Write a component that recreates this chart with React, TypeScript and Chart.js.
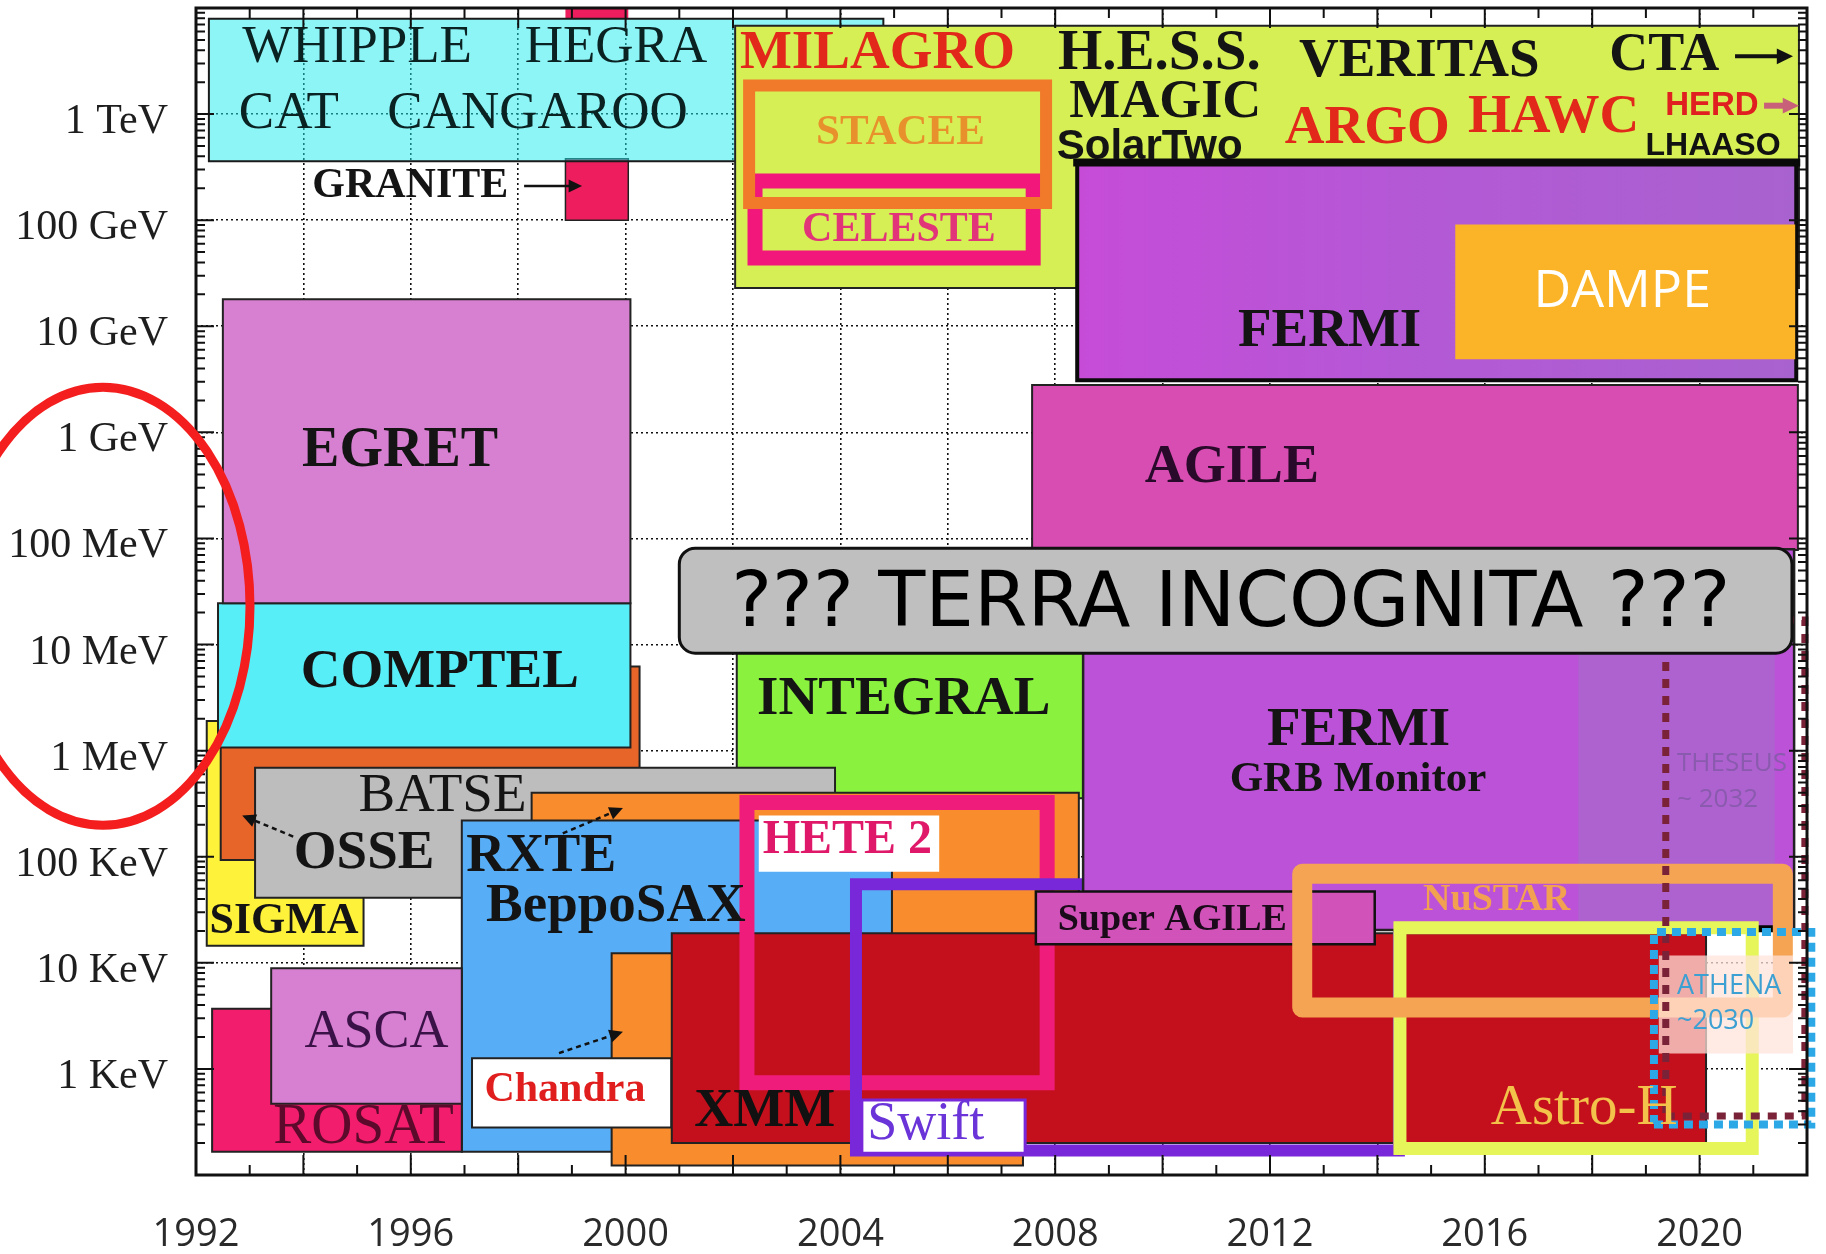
import React, { useEffect, useRef } from 'react';
import { Chart, registerables } from 'chart.js';

Chart.register(...registerables);

// ---------- axes ----------
const yearTickLabels = ['1992', '1996', '2000', '2004', '2008', '2012', '2016', '2020'];
const energyTickValues = [1, 10, 100, 1e3, 1e4, 1e5, 1e6, 1e7, 1e8, 1e9]; // keV
const energyTickLabels = ['1 KeV', '10 KeV', '100 KeV', '1 MeV', '10 MeV', '100 MeV', '1 GeV', '10 GeV', '100 GeV', '1 TeV'];

// ---------- instrument boxes (drawing order, bottom first) ----------
const boxNames = [
  'GRANITE', 'GRANITE top', 'WHIPPLE/HEGRA/CAT/CANGAROO', 'MILAGRO/H.E.S.S./MAGIC/VERITAS/CTA',
  'CELESTE', 'STACEE', 'FERMI LAT', 'DAMPE', 'AGILE',
  'SIGMA', 'OSSE', 'COMPTEL', 'EGRET', 'INTEGRAL', 'BATSE', 'RXTE', 'BeppoSAX',
  'ROSAT', 'ASCA', 'Chandra', 'Chandra tag', 'XMM', 'HETE 2', 'HETE 2 tag',
  'Swift', 'Swift tag', 'FERMI GBM', 'FERMI GBM ext', 'Super AGILE',
  'Astro-H', 'NuSTAR', 'ATHENA tag', 'THESEUS', 'ATHENA',
];
const boxStart = [
  1998.88, 1998.88, 1992.24, 2002.04,
  2002.41, 2002.30, 2008.41, 2015.45, 2007.57,
  1992.2, 1992.46, 1992.41, 1992.5, 2002.07, 1993.1, 1998.25, 1996.95,
  1992.3, 1993.4, 1999.74, 1997.14, 2000.86, 2002.26, 2002.48,
  2004.29, 2004.4, 2008.52, 2017.74, 2007.64,
  2014.42, 2012.6, 2019.24, 2019.37, 2019.15,
];
const boxEnd = [
  2000.05, 2000.05, 2004.8, 2021.85,
  2007.59, 2007.83, 2021.8, 2021.78, 2021.83,
  1995.12, 2000.26, 2000.09, 2000.09, 2008.52, 2003.9, 2008.44, 2004.96,
  1996.95, 1996.95, 2007.4, 2000.85, 2020.12, 2007.85, 2005.84,
  2014.4, 2007.44, 2021.76, 2021.4, 2013.95,
  2020.98, 2021.55, 2021.74, 2021.96, 2022.08,
];
const boxLow = [ // keV
  1e8, 8e9, 3.6e8, 2.3e7,
  4.4e7, 1.45e8, 3.1e6, 4.9e6, 7.8e4,
  14.5, 93, 1.07e3, 2.45e4, 355, 41, 16, 0.166,
  0.166, 0.47, 0.123, 0.28, 0.2, 0.74, 72,
  0.17, 0.16, 20.4, 21, 15,
  0.178, 3.8, 1.4, 0.36, 0.3,
];
const boxHigh = [ // keV
  3.8e8, 1e10, 7.9e9, 6.8e9,
  2.34e8, 1.86e9, 3.5e8, 9.1e7, 2.8e6,
  1.9e3, 6.2e3, 2.45e4, 1.8e7, 4e4, 690, 400, 220,
  3.7, 8.9, 12.3, 1.26, 19, 324, 245,
  55, 0.51, 7.9e4, 7.9e4, 47,
  21.4, 69, 11.7, 1.7e4, 19.5,
];

// ---------- text annotations ----------
const labelTexts = [
  'WHIPPLE', 'HEGRA', 'CAT', 'CANGAROO', 'GRANITE', 'EGRET', 'COMPTEL', 'INTEGRAL',
  'FERMI', 'DAMPE', 'AGILE', 'FERMI', 'GRB Monitor', 'MILAGRO', 'H.E.S.S.', 'MAGIC',
  'SolarTwo', 'VERITAS', 'CTA', 'ARGO', 'HAWC', 'HERD', 'LHAASO', 'STACEE', 'CELESTE',
  'BATSE', 'OSSE', 'SIGMA', 'RXTE', 'BeppoSAX', 'HETE 2', 'Super AGILE', 'NuSTAR',
  'ASCA', 'ROSAT', 'Chandra', 'XMM', 'Swift', 'Astro-H', 'THESEUS', '~ 2032', 'ATHENA', '~2030',
];
const labelYears = [
  1995.0, 1999.82, 1993.73, 1998.36, 1995.99, 1995.8, 1996.54, 2005.18,
  2013.11, 2018.56, 2011.29, 2013.65, 2013.64, 2004.69, 2009.94, 2010.05,
  2009.76, 2014.78, 2019.34, 2013.81, 2017.28, 2020.23, 2020.25, 2005.12, 2005.09,
  1996.59, 1995.13, 1993.64, 1998.43, 1999.82, 2004.13, 2010.18, 2016.22,
  1995.36, 1995.12, 1998.87, 2002.59, 2005.59, 2017.85, 2019.58, 2019.58, 2019.58, 2019.58,
];
const labelEnergies = [
  4.2e9, 4.2e9, 1e9, 1e9, 2.1e8, 6.6e5, 5.4e3, 3.0e3,
  8.9e6, 2.1e7, 4.6e5, 1.55e3, 525, 3.7e9, 3.7e9, 1.26e9,
  4.9e8, 3.1e9, 3.5e9, 7.2e8, 9.3e8, 1.2e9, 5.0e8, 6.6e8, 8.1e7,
  372, 107, 24.5, 100, 34, 141, 25, 39,
  2.19, 0.28, 0.63, 0.39, 0.30, 0.42, 760, 347, 6.0, 2.8,
];

const terraText = '??? TERRA INCOGNITA ???';
const terraYears = [2001.0, 2021.72];
const terraEnergies = [8.3e3, 8.1e4];
const terraTextAt = [2011.27, 2.3e4];

const arrowFromYear = [1998.11, 1993.81, 1998.83, 1998.76, 2020.66, 2021.2];
const arrowFromE = [2.1e8, 155, 166, 1.41, 3.5e9, 1.2e9];
const arrowToYear = [1999.19, 1992.86, 1999.95, 1999.95, 2021.74, 2021.85];
const arrowToE = [2.1e8, 245, 288, 2.24, 3.5e9, 1.2e9];

// ---------- styles ----------
const SERIF = '"Liberation Serif", "Times New Roman", serif';
const SANS = '"Liberation Sans", Arial, sans-serif';
const OPEN = '"Open Sans", "DejaVu Sans", sans-serif';
const DK = '#141414';
const RED = '#E2281A';

type BoxStyle = {
  fill?: any; border?: string; width?: number; dash?: number[]; join?: string; cap?: string;
  bottomOnly?: boolean; thickTop?: number;
};
const boxStyles: Record<string, BoxStyle> = {
  'GRANITE': { fill: '#EE1E5E', border: '#222', width: 1.5 },
  'GRANITE top': { fill: '#EE1E5E' },
  'WHIPPLE/HEGRA/CAT/CANGAROO': { fill: 'rgba(30,235,240,0.5)', border: '#1a1a1a', width: 2 },
  'MILAGRO/H.E.S.S./MAGIC/VERITAS/CTA': { fill: '#D6EF55', border: '#222', width: 2 },
  'CELESTE': { border: '#F2177A', width: 15 },
  'STACEE': { border: '#F07A2A', width: 12 },
  'FERMI LAT': { fill: 'gradLAT', border: '#0a0a0a', width: 4, thickTop: 8 },
  'DAMPE': { fill: '#FBB427' },
  'AGILE': { fill: '#D84DB2', border: '#222', width: 2 },
  'SIGMA': { fill: '#FFF23A', border: '#222', width: 2 },
  'OSSE': { fill: '#E8652A', border: '#222', width: 2 },
  'COMPTEL': { fill: '#58EEF8', border: '#222', width: 2 },
  'EGRET': { fill: '#D77FD0', border: '#222', width: 2 },
  'INTEGRAL': { fill: '#8AF23E', border: '#222', width: 2 },
  'BATSE': { fill: '#BDBDBD', border: '#222', width: 2 },
  'RXTE': { fill: '#F98C2C', border: '#222', width: 2 },
  'BeppoSAX': { fill: '#58AEF6', border: '#222', width: 2 },
  'ROSAT': { fill: '#F21D6C', border: '#222', width: 2 },
  'ASCA': { fill: '#D77FD0', border: '#222', width: 2 },
  'Chandra': { fill: '#F98C2C', border: '#222', width: 2 },
  'Chandra tag': { fill: '#FFFFFF', border: '#222', width: 2 },
  'XMM': { fill: '#C4101C', border: '#222', width: 2 },
  'HETE 2': { border: '#F01C7C', width: 15 },
  'HETE 2 tag': { fill: '#FFFFFF' },
  'Swift': { border: '#7828D8', width: 12 },
  'Swift tag': { fill: '#FFFFFF', border: '#7828D8', width: 3 },
  'FERMI GBM': { fill: '#BC52D8', border: '#222', width: 2.5 },
  'FERMI GBM ext': { fill: '#AE62CF', border: '#050505', width: 7, bottomOnly: true, cap: 'butt' },
  'Super AGILE': { fill: '#D152B8', border: '#111', width: 2.5 },
  'Astro-H': { border: '#E6F65A', width: 13 },
  'NuSTAR': { border: '#F5A453', width: 20, join: 'round', cap: 'round' },
  'ATHENA tag': { fill: 'rgba(255,226,218,0.74)' },
  'THESEUS': { border: '#7A2238', width: 7, dash: [9, 8], cap: 'butt' },
  'ATHENA': { border: '#2CA8E6', width: 8, dash: [9, 6], cap: 'butt' },
};

const labelFonts = [
  `53px ${SERIF}`, `53px ${SERIF}`, `53px ${SERIF}`, `53px ${SERIF}`, `bold 42px ${SERIF}`, `bold 56px ${SERIF}`, `bold 55px ${SERIF}`, `bold 55px ${SERIF}`,
  `bold 55px ${SERIF}`, `52px ${OPEN}`, `bold 54px ${SERIF}`, `bold 55px ${SERIF}`, `bold 43px ${SERIF}`, `bold 55px ${SERIF}`, `bold 57px ${SERIF}`, `bold 54px ${SERIF}`,
  `bold 42px ${SANS}`, `bold 55px ${SERIF}`, `bold 54px ${SERIF}`, `bold 55px ${SERIF}`, `bold 55px ${SERIF}`, `bold 33px ${SANS}`, `bold 32px ${SANS}`, `bold 43px ${SERIF}`, `bold 42px ${SERIF}`,
  `55px ${SERIF}`, `bold 55px ${SERIF}`, `bold 44px ${SERIF}`, `bold 54px ${SERIF}`, `bold 55px ${SERIF}`, `bold 48px ${SERIF}`, `bold 38px ${SERIF}`, `bold 38px ${SERIF}`,
  `54px ${SERIF}`, `57px ${SERIF}`, `bold 42px ${SERIF}`, `bold 54px ${SERIF}`, `54px ${SERIF}`, `57px ${SERIF}`, `26px ${OPEN}`, `26px ${OPEN}`, `27px ${OPEN}`, `27px ${OPEN}`,
];
const labelColors = [
  '#0a2222', '#0a2222', '#0a2222', '#0a2222', DK, DK, DK, DK,
  DK, '#FFFFFF', '#2a0a2a', DK, DK, RED, DK, DK,
  DK, DK, DK, RED, RED, '#E02020', '#111', '#E8902C', '#E23478',
  DK, DK, DK, DK, DK, '#E0186A', '#1a0a1a', '#F2A150',
  '#3a1248', '#5c0a2c', '#E01E1E', '#111', '#6a34d8', '#F2C24A', '#8A5AAE', '#8A5AAE', '#3CA0D2', '#3CA0D2',
];
const labelAlign = labelTexts.map((_, i) => (i >= 39 ? 'left' : 'center'));
const arrowColors = ['#111', '#111', '#111', '#111', '#111', '#C8607A'];
const arrowWidths = [2.5, 2.5, 2.5, 2.5, 4, 6];
const arrowDashes = [[], [5, 4], [5, 4], [5, 4], [], []];

function drawArrow(ctx: CanvasRenderingContext2D, x0: number, y0: number, x1: number, y1: number,
  color: string, width: number, dash: number[], head: number) {
  const ang = Math.atan2(y1 - y0, x1 - x0);
  ctx.save();
  ctx.strokeStyle = color;
  ctx.fillStyle = color;
  ctx.lineWidth = width;
  ctx.setLineDash(dash);
  ctx.beginPath();
  ctx.moveTo(x0, y0);
  ctx.lineTo(x1 - head * 0.7 * Math.cos(ang), y1 - head * 0.7 * Math.sin(ang));
  ctx.stroke();
  ctx.setLineDash([]);
  ctx.beginPath();
  ctx.moveTo(x1, y1);
  ctx.lineTo(x1 - head * Math.cos(ang - 0.45), y1 - head * Math.sin(ang - 0.45));
  ctx.lineTo(x1 - head * Math.cos(ang + 0.45), y1 - head * Math.sin(ang + 0.45));
  ctx.closePath();
  ctx.fill();
  ctx.restore();
}

const overlayPlugin = {
  id: 'overlay',
  afterDatasetsDraw(chart: any) {
    const { ctx, chartArea: a, scales } = chart;
    const x = scales.x;
    const y = scales.y;
    const px = (v: number) => x.getPixelForValue(v);
    const py = (v: number) => y.getPixelForValue(v);

    // labels
    ctx.save();
    ctx.textBaseline = 'middle';
    labelTexts.forEach((t, i) => {
      ctx.font = labelFonts[i];
      ctx.fillStyle = labelColors[i];
      ctx.textAlign = labelAlign[i];
      ctx.fillText(t, px(labelYears[i]), py(labelEnergies[i]));
    });
    ctx.restore();

    // arrows
    arrowFromYear.forEach((_, i) => {
      drawArrow(ctx, px(arrowFromYear[i]), py(arrowFromE[i]), px(arrowToYear[i]), py(arrowToE[i]),
        arrowColors[i], arrowWidths[i], arrowDashes[i], i >= 4 ? 18 : 15);
    });

    // terra incognita box
    const X0 = px(terraYears[0]);
    const X1 = px(terraYears[1]);
    const Ytop = py(terraEnergies[1]);
    const Ybot = py(terraEnergies[0]);
    ctx.save();
    ctx.beginPath();
    ctx.roundRect(X0, Ytop, X1 - X0, Ybot - Ytop, 16);
    ctx.fillStyle = '#BFBFBF';
    ctx.fill();
    ctx.lineWidth = 3;
    ctx.strokeStyle = '#111';
    ctx.stroke();
    ctx.font = `77px "DejaVu Sans", sans-serif`;
    ctx.fillStyle = '#000';
    ctx.textAlign = 'center';
    ctx.textBaseline = 'middle';
    ctx.fillText(terraText, px(terraTextAt[0]), py(terraTextAt[1]));
    ctx.restore();

    // inward ticks on all four sides
    ctx.save();
    ctx.strokeStyle = '#111';
    ctx.lineWidth = 2;
    ctx.beginPath();
    for (let yr = 1993; yr < 2022; yr++) {
      const X = px(yr);
      const len = yr % 2 === 0 ? 20 : 10;
      ctx.moveTo(X, a.bottom); ctx.lineTo(X, a.bottom - len);
      ctx.moveTo(X, a.top); ctx.lineTo(X, a.top + len);
    }
    for (let d = -1; d <= 9; d++) {
      for (let k = 1; k <= 9; k++) {
        const v = k * Math.pow(10, d);
        if (v <= 0.1 || v >= 1e10) continue;
        const Y = py(v);
        const len = k === 1 ? 18 : 9;
        ctx.moveTo(a.left, Y); ctx.lineTo(a.left + len, Y);
        ctx.moveTo(a.right, Y); ctx.lineTo(a.right - len, Y);
      }
    }
    ctx.stroke();
    ctx.lineWidth = 3;
    ctx.strokeRect(a.left, a.top, a.right - a.left, a.bottom - a.top);
    ctx.restore();

    // red ellipse around the energy labels
    ctx.save();
    ctx.beginPath();
    ctx.ellipse(a.left - 93, py(2.3e4), 147, 219, 0, 0, Math.PI * 2);
    ctx.strokeStyle = '#F41E1E';
    ctx.lineWidth = 9;
    ctx.stroke();
    ctx.restore();
  },
};

function zeroPad(s: any) {
  s.paddingTop = 0;
  s.paddingBottom = 0;
  s.paddingLeft = 0;
  s.paddingRight = 0;
}

export default function App() {
  const ref = useRef<HTMLCanvasElement>(null);
  useEffect(() => {
    document.body.style.margin = '0';
    document.body.style.overflow = 'hidden';
    const canvas = ref.current!;
    const datasets = boxNames.map((name, i) => {
      const st = boxStyles[name];
      const x0 = boxStart[i], x1 = boxEnd[i], y0 = boxLow[i], y1 = boxHigh[i];
      let bg: any = st.fill || 'rgba(0,0,0,0)';
      if (st.fill === 'gradLAT') {
        bg = (c: any) => {
          const ch = c.chart;
          if (!ch.chartArea) return '#BA52D8';
          const g = ch.ctx.createLinearGradient(ch.scales.x.getPixelForValue(x0), 0, ch.scales.x.getPixelForValue(x1), 0);
          g.addColorStop(0, '#C64CD8');
          g.addColorStop(0.45, '#B458D6');
          g.addColorStop(1, '#A862CF');
          return g;
        };
      }
      // corner order: the first edge is the one that may get a special style
      const data = st.thickTop
        ? [{ x: x0, y: y1 }, { x: x1, y: y1 }, { x: x1, y: y0 }, { x: x0, y: y0 }, { x: x0, y: y1 }]
        : [{ x: x0, y: y0 }, { x: x1, y: y0 }, { x: x1, y: y1 }, { x: x0, y: y1 }, { x: x0, y: y0 }];
      const ds: any = {
        label: name,
        data,
        showLine: true,
        fill: st.fill ? 'shape' : false,
        backgroundColor: bg,
        borderColor: st.border || 'rgba(0,0,0,0)',
        borderWidth: st.width || 1,
        borderDash: st.dash || [],
        borderJoinStyle: st.join || 'miter',
        borderCapStyle: st.cap || 'square',
        pointRadius: 0,
        pointHoverRadius: 0,
        tension: 0,
        clip: false,
        order: boxNames.length - i,
      };
      if (st.bottomOnly) {
        ds.segment = { borderColor: (c: any) => (c.p0DataIndex === 0 ? st.border : 'rgba(0,0,0,0)') };
      }
      if (st.thickTop) {
        ds.segment = { borderWidth: (c: any) => (c.p0DataIndex === 0 ? st.thickTop : st.width) };
      }
      return ds;
    });

    const chart = new Chart(canvas, {
      type: 'scatter',
      data: { datasets } as any,
      options: {
        responsive: false,
        animation: false,
        devicePixelRatio: 1,
        events: [],
        layout: { padding: { top: 8, right: 19, left: 0, bottom: 0 } },
        plugins: { legend: { display: false }, tooltip: { enabled: false } },
        scales: {
          x: {
            type: 'linear',
            min: 1992,
            max: 2022,
            afterFit: (s: any) => { s.height = 79; zeroPad(s); },
            ticks: {
              stepSize: 2,
              autoSkip: false,
              maxRotation: 0,
              padding: 37,
              font: { family: '"Open Sans", "DejaVu Sans", sans-serif', size: 38 },
              color: '#2a2a2a',
              callback: (v: any) => (yearTickLabels.includes(String(v)) ? String(v) : ''),
            },
            grid: { color: '#111', lineWidth: 1.6, drawTicks: false },
            border: { display: false, dash: [2, 3] },
          },
          y: {
            type: 'logarithmic',
            min: 0.1,
            max: 1e10,
            afterFit: (s: any) => { s.width = 196; zeroPad(s); },
            afterBuildTicks: (s: any) => { s.ticks = energyTickValues.map((v) => ({ value: v })); },
            ticks: {
              autoSkip: false,
              padding: 28,
              labelOffset: 8,
              font: { family: '"Liberation Serif", "Times New Roman", serif', size: 42 },
              color: '#1e1e1e',
              callback: (_v: any, i: number) => energyTickLabels[i],
            },
            grid: { color: '#111', lineWidth: 1.6, drawTicks: false },
            border: { display: false, dash: [2, 3] },
          },
        },
      } as any,
      plugins: [overlayPlugin],
    });
    return () => chart.destroy();
  }, []);
  return <canvas ref={ref} width={1826} height={1254} style={{ display: 'block' }} />;
}
